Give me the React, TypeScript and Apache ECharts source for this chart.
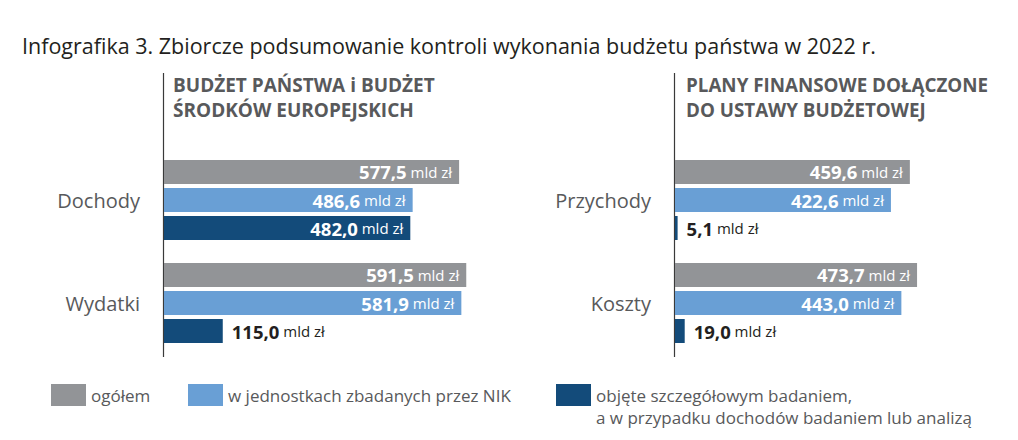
import React, { useEffect, useRef } from "react";
import * as echarts from "echarts";

const TITLE = "Infografika 3. Zbiorcze podsumowanie kontroli wykonania budżetu państwa w 2022 r.";
const HEADER_LEFT = "BUDŻET PAŃSTWA i BUDŻET\nŚRODKÓW EUROPEJSKICH";
const HEADER_RIGHT = "PLANY FINANSOWE DOŁĄCZONE\nDO USTAWY BUDŻETOWEJ";

const categoriesLeft = ["Dochody", "Wydatki"];
const categoriesRight = ["Przychody", "Koszty"];

const seriesNames = [
  "ogółem",
  "w jednostkach zbadanych przez NIK",
  "objęte szczegółowym badaniem,\na w przypadku dochodów badaniem lub analizą",
];

const ogolemLeft = [577.5, 591.5];
const nikLeft = [486.6, 581.9];
const szczegLeft = [482.0, 115.0];

const ogolemRight = [459.6, 473.7];
const nikRight = [422.6, 443.0];
const szczegRight = [5.1, 19.0];

const UNIT = "mld zł";

const COLORS = ["#929497", "#699fd5", "#134b7a"];
const FONT = "'Open Sans', 'Noto Sans', sans-serif";
const TEXT_GREY = "#58595b";
const DARK = "#231f20";

const fmt = (v: number) => v.toFixed(1).replace(".", ",");

const richFor = (color: string) => ({
  v: { fontSize: 18.5, fontWeight: "bold", color, fontFamily: FONT },
  u: { fontSize: 15, color, fontFamily: FONT },
});

const insideLabel = {
  show: true,
  position: "insideRight",
  distance: 7,
  formatter: (p: any) => `{v|${fmt(p.value)}}{u| ${UNIT}}`,
  rich: richFor("#ffffff"),
};

const outsideLabel = {
  show: true,
  position: "right",
  distance: 9,
  formatter: (p: any) => `{v|${fmt(p.value)}}{u| ${UNIT}}`,
  rich: richFor(DARK),
};

const toData = (vals: number[]) =>
  vals.map((v) => (v < 200 ? { value: v, label: outsideLabel } : { value: v }));

export default function App() {
  const ref = useRef<HTMLDivElement>(null);
  useEffect(() => {
    document.body.style.margin = "0";
    if (!ref.current) return;
    const chart = echarts.init(ref.current, undefined, { renderer: "svg" });

    const gridTop = 148.5;
    const gridHeight = 206;
    const axisMax = 600;
    const gridWidth = 306.6;

    const makeSeries = (vals: number[][], idx: number) =>
      vals.map((arr, i) => ({
        type: "bar",
        name: seriesNames[i],
        xAxisIndex: idx,
        yAxisIndex: idx,
        barWidth: 24,
        barGap: "16.67%",
        itemStyle: { color: COLORS[i] },
        label: insideLabel,
        data: toData(arr),
      }));

    const yAxisBase = {
      type: "category",
      inverse: true,
      axisLine: { show: false },
      axisTick: { show: false },
      axisLabel: { fontSize: 20, color: TEXT_GREY, fontFamily: FONT, margin: 24 },
    };

    const legendBase = {
      orient: "horizontal",
      selectedMode: false,
      icon: "rect",
      itemWidth: 35,
      itemHeight: 22,
      padding: 0,
      top: 384,
      textStyle: { fontSize: 17, lineHeight: 17, color: TEXT_GREY, fontFamily: FONT },
    };

    const [line1, line2] = seriesNames[2].split("\n");

    chart.setOption({
      animation: false,
      grid: [
        { left: 164, top: gridTop, width: gridWidth, height: gridHeight },
        { left: 675, top: gridTop, width: gridWidth, height: gridHeight },
      ],
      xAxis: [
        { type: "value", gridIndex: 0, min: 0, max: axisMax, show: false },
        { type: "value", gridIndex: 1, min: 0, max: axisMax, show: false },
      ],
      yAxis: [
        { ...yAxisBase, gridIndex: 0, data: categoriesLeft },
        { ...yAxisBase, gridIndex: 1, data: categoriesRight },
      ],
      legend: [
        { ...legendBase, left: 51, data: [seriesNames[0]] },
        { ...legendBase, left: 188, data: [seriesNames[1]] },
        {
          ...legendBase,
          left: 556,
          data: [seriesNames[2]],
          formatter: () => line1,
        },
      ],
      graphic: [
        {
          type: "text",
          left: 22,
          top: 34,
          style: { text: TITLE, font: `21.5px ${FONT}`, fill: DARK },
        },
        {
          type: "text",
          left: 173,
          top: 72,
          style: { text: HEADER_LEFT, font: `bold 19px ${FONT}`, fill: TEXT_GREY, lineHeight: 25 },
        },
        {
          type: "text",
          left: 686,
          top: 72,
          style: { text: HEADER_RIGHT, font: `bold 18.8px ${FONT}`, fill: TEXT_GREY, lineHeight: 25 },
        },
        {
          type: "text",
          x: 596,
          y: 417,
          style: {
            text: line2,
            font: `17px ${FONT}`,
            lineHeight: 17,
            fill: TEXT_GREY,
            verticalAlign: "middle",
            align: "left",
          },
        },
        {
          type: "line",
          shape: { x1: 163.5, y1: 73, x2: 163.5, y2: 357 },
          style: { stroke: "#3a3a3a", lineWidth: 1.2 },
        },
        {
          type: "line",
          shape: { x1: 674.5, y1: 73, x2: 674.5, y2: 357 },
          style: { stroke: "#3a3a3a", lineWidth: 1.2 },
        },
      ],
      series: [
        ...makeSeries([ogolemLeft, nikLeft, szczegLeft], 0),
        ...makeSeries([ogolemRight, nikRight, szczegRight], 1),
      ],
    });
    return () => chart.dispose();
  }, []);
  return <div ref={ref} style={{ width: 1018, height: 440 }} />;
}
